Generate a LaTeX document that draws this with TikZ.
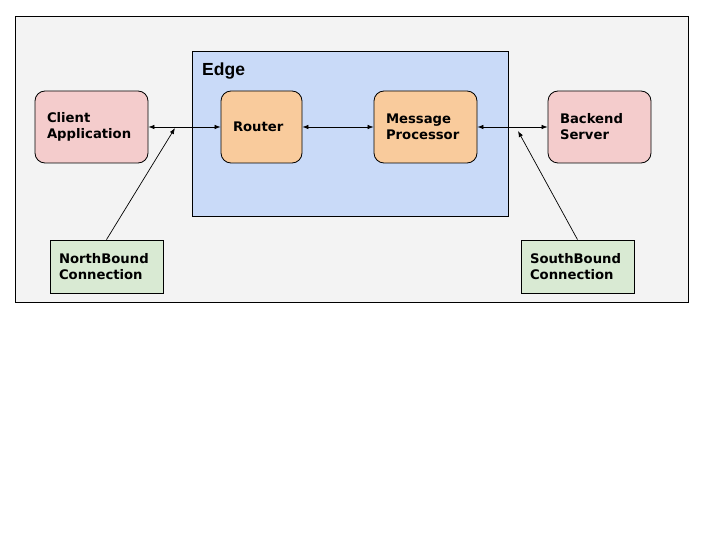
\documentclass[tikz,border=0pt]{standalone}
\usepackage{fontspec}
\setmainfont{DejaVu Sans}
\newfontfamily\edgefont{Liberation Sans}
\usetikzlibrary{arrows.meta}
\definecolor{panelgray}{HTML}{F3F3F3}
\definecolor{edgeblue}{HTML}{C9DAF8}
\definecolor{endpink}{HTML}{F4CCCC}
\definecolor{coreorange}{HTML}{F9CB9C}
\definecolor{linkgreen}{HTML}{D9EAD3}
\begin{document}
\begin{tikzpicture}[x=1pt, y=-1pt,
	box/.style = {draw, line width=0.8pt, rounded corners=10pt, minimum height=72pt,
		inner xsep=12pt, align=left, font=\fontsize{13.2}{16}\selectfont\bfseries},
	conn/.style = {draw, line width=0.8pt, minimum height=53pt, text width=95pt,
		inner xsep=9pt, align=left, fill=linkgreen, font=\fontsize{13.2}{16}\selectfont\bfseries},
	link/.style = {line width=0.7pt, {Latex[length=6pt,width=4.5pt]}-{Latex[length=6pt,width=4.5pt]}},
	feed/.style = {line width=0.7pt, -{Latex[length=6pt,width=4.5pt]}}]
	
	\useasboundingbox (0,0) rectangle (720,540);
	\def \midy {127} % row of the main boxes
	
	% background panels
	\draw[line width=0.8pt, fill=panelgray] (15,16) rectangle (688,302);
	\draw[line width=0.8pt, fill=edgeblue] (192,51) rectangle (508,216);
	\node[anchor=base west, inner sep=0pt, font=\edgefont\fontsize{17.5}{20}\selectfont\bfseries] (edge) at (202,76) {Edge};
	
	% main row
	\node[box, fill=endpink, text width=89pt] (client) at (91.5,\midy) {Client\\Application};
	\node[box, fill=coreorange, text width=57pt] (router) at (261.5,\midy) {Router};
	\node[box, fill=coreorange, text width=79pt] (mp) at (425.5,\midy) {Message\\Processor};
	\node[box, fill=endpink, text width=79pt] (backend) at (599.5,\midy) {Backend\\Server};
	
	% connections
	\node[conn] (north) at (106.5,266.5) {NorthBound\\Connection};
	\node[conn] (south) at (577.5,266.5) {SouthBound\\Connection};
	\coordinate (ntip) at (175,128);
	\coordinate (stip) at (518,131);
	
	\draw[link] (client) -- (router);
	\draw[link] (router) -- (mp);
	\draw[link] (mp) -- (backend);
	\draw[feed] (north.north) -- (ntip);
	\draw[feed] (south.north) -- (stip);
\end{tikzpicture}
\end{document}
